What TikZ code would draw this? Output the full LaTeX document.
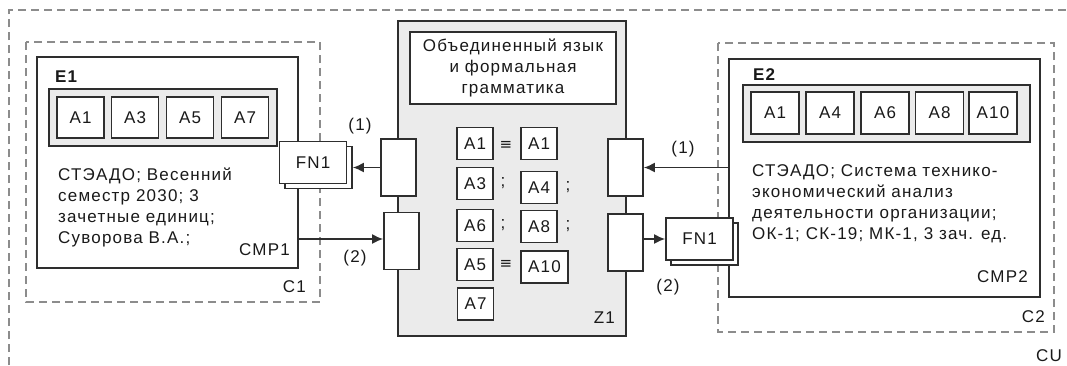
\documentclass[tikz,border=0pt]{standalone}
\usepackage{fontspec}
\setmainfont{Liberation Sans}[LetterSpace=7]
\newfontfamily\symfont{DejaVu Sans}
\usetikzlibrary{arrows.meta}
\definecolor{linecol}{HTML}{2E2E2E}
\definecolor{dashcol}{HTML}{8C8C8C}
\definecolor{panel}{HTML}{EBEBEB}
\begin{document}
\begin{tikzpicture}[x=1pt,y=-1pt,
  every node/.style={font=\fontsize{17}{21}\selectfont, text=black!90, inner sep=0pt},
  frame/.style={draw=dashcol, line width=1.4pt, dash pattern=on 8pt off 5pt},
  box/.style={draw=linecol, line width=1.8pt},
  abox/.style={box, fill=white, minimum width=47pt, minimum height=41pt},
  zbox/.style={box, fill=white, minimum width=36pt, minimum height=32pt},
  port/.style={box, fill=white, minimum width=35pt, minimum height=57pt},
  fnbox/.style={box, fill=white, minimum width=67pt, minimum height=42pt},
  arr/.style={draw=linecol, line width=1.5pt, -{Latex[length=11pt,width=10pt]}}]
\useasboundingbox (0,0) rectangle (1067,365);
\draw[frame] (9,365) |- (1067,10); % CU
\node[anchor=east] (cu) at (1062,356) {CU};
% left component
\draw[frame] (26,42) rectangle (320,302);
\node[anchor=east] (ca) at (306,287) {C1};
\node[box, minimum width=261pt, minimum height=211pt] (cmpa) at (167.5,162.5) {};
\node[anchor=west, font=\fontsize{17}{21}\selectfont\bfseries] (ea) at (55,77) {E1};
\node[box, fill=panel, minimum width=228pt, minimum height=57pt] (stra) at (163,117.5) {};
\node[abox] (a1) at (80.5,117.5) {A1};
\node[abox] (a3) at (135,117.5) {A3};
\node[abox] (a5) at (190,117.5) {A5};
\node[abox] (a7) at (245,117.5) {A7};
\node[anchor=north west, align=left] (txta) at (58,168) {СТЭАДО; Весенний\\семестр 2030; 3\\зачетные единиц;\\Суворова В.А.;};
\node[anchor=east] (cmpalbl) at (290,250) {CMP1};
\node[fnbox] (fnaback) at (318.5,167.5) {};
\node[fnbox] (fna) at (313,162.5) {FN1};
% Z1
\node[box, fill=panel, minimum width=228pt, minimum height=315pt] (z) at (512,178.5) {};
\node[box, fill=white, minimum width=206pt, minimum height=72pt, align=center] (title) at (513,68) {Объединенный язык\\и формальная\\грамматика};
\node[anchor=east] (zlbl) at (615,318) {Z1};
\node[port] (pla) at (398.5,167.5) {};
\node[port] (plb) at (401.5,241) {};
\node[port] (pra) at (625.5,167.5) {};
\node[port] (prb) at (625.5,242.5) {};
\node[zbox] (za1) at (475,143.5) {A1};
\node[zbox] (zb1) at (539,143.5) {A1};
\node[zbox] (za3) at (475,183.5) {A3};
\node[zbox] (zb4) at (539,187.5) {A4};
\node[zbox] (za6) at (475,225.5) {A6};
\node[zbox] (zb8) at (539,226.5) {A8};
\node[zbox] (za5) at (475,264.5) {A5};
\node[zbox, minimum width=47pt] (zb10) at (544.5,267) {A10};
\node[zbox] (za7) at (475.5,304) {A7};
\node[font=\fontsize{15}{21}\symfont] (eqa) at (506,145) {≡};
\node[font=\fontsize{15}{21}\symfont] (eqb) at (506,264) {≡};
\node (sa) at (503,183) {;};
\node (sb) at (503,225) {;};
\node (sc) at (568,187) {;};
\node (sd) at (568,226) {;};
% right component
\draw[frame] (718,43) rectangle (1054,332);
\node[anchor=east] (cb) at (1045,317) {C2};
\node[box, minimum width=311pt, minimum height=238pt] (cmpb) at (884.5,178) {};
\node[anchor=west, font=\fontsize{17}{21}\selectfont\bfseries] (eb) at (753,75) {E2};
\node[box, fill=panel, minimum width=287pt, minimum height=57pt] (strb) at (886.5,113.5) {};
\node[abox, minimum width=48pt, minimum height=42pt] (b1) at (775,113) {A1};
\node[abox, minimum width=48pt, minimum height=42pt] (b4) at (830,113) {A4};
\node[abox, minimum width=48pt, minimum height=42pt] (b6) at (885,113) {A6};
\node[abox, minimum width=48pt, minimum height=42pt] (b8) at (939.5,113) {A8};
\node[abox, minimum width=48pt, minimum height=42pt] (b10) at (993,113) {A10};
\node[anchor=north west, align=left] (txtb) at (752,164) {СТЭАДО; Система технико-\\экономический анализ\\деятельности организации;\\ОК-1; СК-19; МК-1, 3 зач. ед.};
\node[anchor=east] (cmpblbl) at (1028,277) {CMP2};
\node[fnbox] (fnbback) at (704.5,244) {};
\node[fnbox] (fnb) at (699.5,239) {FN1};
% connectors
\draw[arr] (pla.west) -- (pla.west -| fnaback.east);
\draw[arr] (cmpa.east |- 0,239) -- (plb.west |- 0,239);
\draw[arr] (cmpb.west |- pra.east) -- (pra.east);
\draw[arr] (prb.east |- fnb.west) -- (fnb.west);
\node (na) at (360,126) {(1)};
\node (nb) at (355,258) {(2)};
\node (nc) at (683,149) {(1)};
\node (nd) at (668,287) {(2)};
\end{tikzpicture}
\end{document}
